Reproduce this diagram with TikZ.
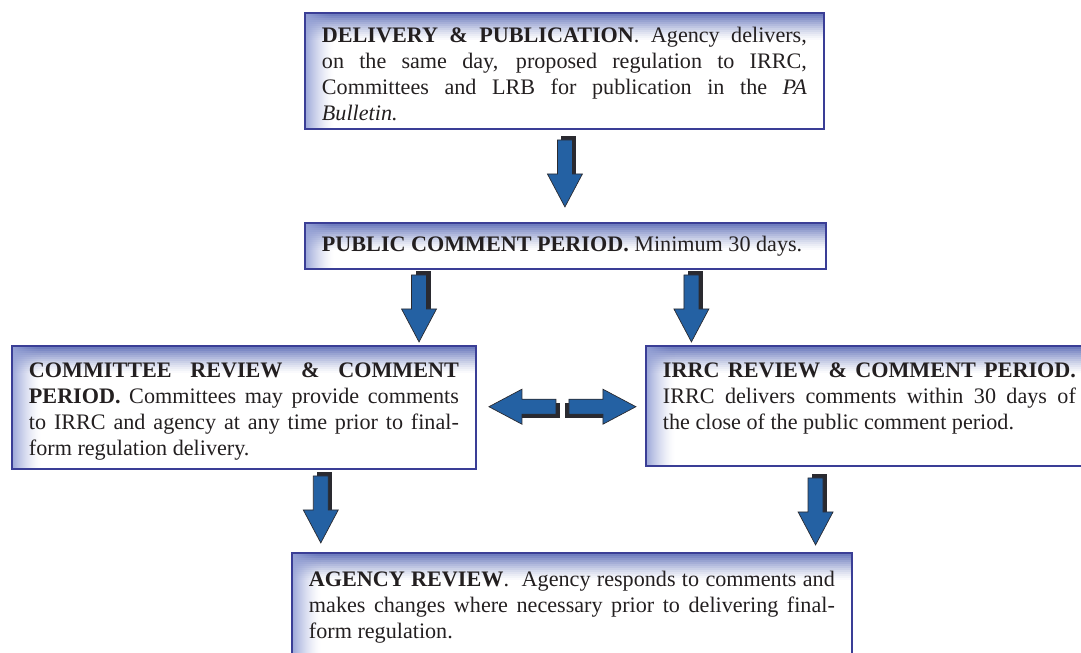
\documentclass[tikz,border=0pt]{standalone}
\usepackage{fontspec}
\setmainfont{Liberation Serif}
\usetikzlibrary{calc,backgrounds}
\setlength{\parindent}{0pt}
\definecolor{boxline}{RGB}{58,62,150}
\definecolor{boxtint}{RGB}{96,112,184}
\definecolor{sidetint}{RGB}{150,162,214}
\definecolor{arrowblue}{RGB}{36,97,163}
\definecolor{arrowshadow}{RGB}{42,42,48}
\definecolor{textgray}{RGB}{35,31,32}
\newcommand{\topgap}{\rule{0pt}{12.5pt}}
\tikzset{stagebox/.style={draw=boxline,line width=1.1pt,anchor=north west,
  inner xsep=0.34cm,align=justify,text=textgray,
  font=\fontsize{12.6}{14.8}\selectfont},
 blockarrow/.pic={
  \fill[arrowshadow] (-37,-11.5) rectangle (1,3.5);
  \filldraw[fill=arrowblue,draw=arrowshadow,line width=0.4pt] (-33,-7.5)--(1,-7.5)--(1,-17.5)
    --(34,0)--(1,17.5)--(1,7.5)--(-33,7.5)--cycle;}}

\begin{document}
\begin{tikzpicture}[x=0.02cm,y=0.02cm]
\path[use as bounding box,clip] (0,0) rectangle (1081,-652);
% stages
\node[stagebox,text width=9.70cm,minimum height=2.32cm] (deliv) at (304,-12)
 {\topgap\textbf{DELIVERY \& PUBLICATION}. Agency delivers,\linebreak on the same day, proposed regulation to IRRC,\linebreak Committees and LRB for publication in the \textit{PA\linebreak Bulletin.}};
\node[stagebox,text width=9.74cm,minimum height=0.92cm] (pub) at (304,-222)
 {\textbf{PUBLIC COMMENT PERIOD.} Minimum 30 days.};
\node[stagebox,text width=8.60cm,minimum height=2.46cm] (comm) at (11,-345)
 {\topgap\textbf{COMMITTEE REVIEW \& COMMENT\linebreak PERIOD.} Committees may provide comments\linebreak to IRRC and agency at any time prior to final-\linebreak form regulation delivery.};
\node[stagebox,text width=8.26cm,minimum height=2.40cm] (irrc) at (645,-345)
 {\topgap\textbf{IRRC REVIEW \& COMMENT PERIOD.}\linebreak IRRC delivers comments within 30 days of\linebreak the close of the public comment period.\\ \mbox{}};
\node[stagebox,text width=10.52cm,minimum height=2.04cm] (agency) at (291,-552)
 {\topgap\textbf{AGENCY REVIEW}.\ \ Agency responds to comments and\linebreak makes changes where necessary prior to delivering final-\linebreak form regulation.};
% tinted top and left edges
\begin{pgfonlayer}{background}
\foreach \b in {deliv,pub,comm,irrc,agency}{
 \begin{scope}
  \clip (\b.north west) rectangle (\b.south east);
  \foreach \i in {0,...,13}{\pgfmathsetmacro\pct{100*(1-\i/14)^1.3}
   \fill[boxtint!\pct!white] ($(\b.north west)+(0,-2*\i)$) rectangle ($(\b.north east)+(0,-2*\i-2.4)$);}
  \foreach \i in {0,...,29}{\pgfmathsetmacro\op{(1-\i/30)^1.5}
   \fill[sidetint,fill opacity=\op] (\b.north west) ++(\i,0) rectangle ++(1,-1000);}
 \end{scope}}
\end{pgfonlayer}
% block arrows
\pic[rotate=-90,yscale=-1] at ($(deliv.south)!.5!(pub.north)+(0,3)$) {blockarrow};
\pic[rotate=-90,yscale=-1] at ($(pub.south west)!.22!(pub.south east)+(0,-38)$) {blockarrow};
\pic[rotate=-90,yscale=-1] at ($(pub.south west)!.741!(pub.south east)+(0,-38)$) {blockarrow};
\pic[xscale=-1] at ($(comm.east)!.5!(irrc.west)+(-38,0)$) {blockarrow};
\pic at ($(comm.east)!.5!(irrc.west)+(41,0)$) {blockarrow};
\pic[rotate=-90,yscale=-1] at ($(comm.south west)!.665!(comm.south east)+(0,-39)$) {blockarrow};
\pic[rotate=-90,yscale=-1] at ($(irrc.south west)!.38!(irrc.south east)+(0,-44)$) {blockarrow};
\end{tikzpicture}
\end{document}
